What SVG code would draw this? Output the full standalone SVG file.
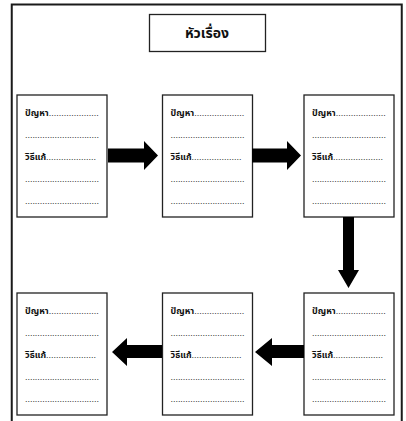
<svg xmlns="http://www.w3.org/2000/svg" width="406" height="421" viewBox="0 0 406 421">
<style>
.frame{fill:none;stroke:#1a1a1a;stroke-width:2}
.box{fill:#fff;stroke:#222;stroke-width:1.3}
.t{font-family:"Noto Sans Thai","Tahoma","DejaVu Sans",sans-serif;font-size:9px;font-weight:bold;fill:#111}
.d{font-family:"Liberation Sans",Arial,sans-serif;font-size:9px;font-weight:normal;fill:#333}
.title{font-family:"Noto Sans Thai","Tahoma","DejaVu Sans",sans-serif;font-size:14px;font-weight:bold;fill:#111;text-anchor:middle}
.arrow{fill:#000}
</style>
<defs>
<g id="card">
<rect class="box" x="0" y="0" width="90" height="122"/>
<text class="t" x="8" y="21">ปัญหา<tspan class="d">....................</tspan></text>
<text class="d" x="8" y="43" textLength="74" lengthAdjust="spacing">..............................</text>
<text class="t" x="8" y="65">วิธีแก้<tspan class="d">....................</tspan></text>
<text class="d" x="8" y="87" textLength="74" lengthAdjust="spacing">..............................</text>
<text class="d" x="8" y="109" textLength="74" lengthAdjust="spacing">..............................</text>
</g>
</defs>
<rect class="frame" x="11.75" y="4.5" width="390" height="430"/>
<g id="title">
<rect class="box" x="149.5" y="14.5" width="116" height="37"/>
<text class="title" x="207" y="38">หัวเรื่อง</text>
</g>
<g id="node1"><use href="#card" x="17" y="95"/></g>
<g id="node2"><use href="#card" x="162.5" y="95"/></g>
<g id="node3"><use href="#card" x="304" y="95"/></g>
<g id="node4"><use href="#card" x="304" y="293"/></g>
<g id="node5"><use href="#card" x="162.5" y="293"/></g>
<g id="node6"><use href="#card" x="17" y="293"/></g>
<g id="connectors">
<path class="arrow" d="M108,148.5 H144 V141 L158,155.5 L144,170 V162.5 H108 Z"/>
<path class="arrow" d="M252,148.5 H287 V141 L301,155.5 L287,170 V162.5 H252 Z"/>
<path class="arrow" d="M343,217 V270 H338 L348.5,288 L359,270 H354 V217 Z"/>
<path class="arrow" d="M304,345 H272 V338 L255,352 L272,366 V358 H304 Z"/>
<path class="arrow" d="M162,345 H127 V338 L112,352 L127,366 V358 H162 Z"/>
</g>
</svg>
